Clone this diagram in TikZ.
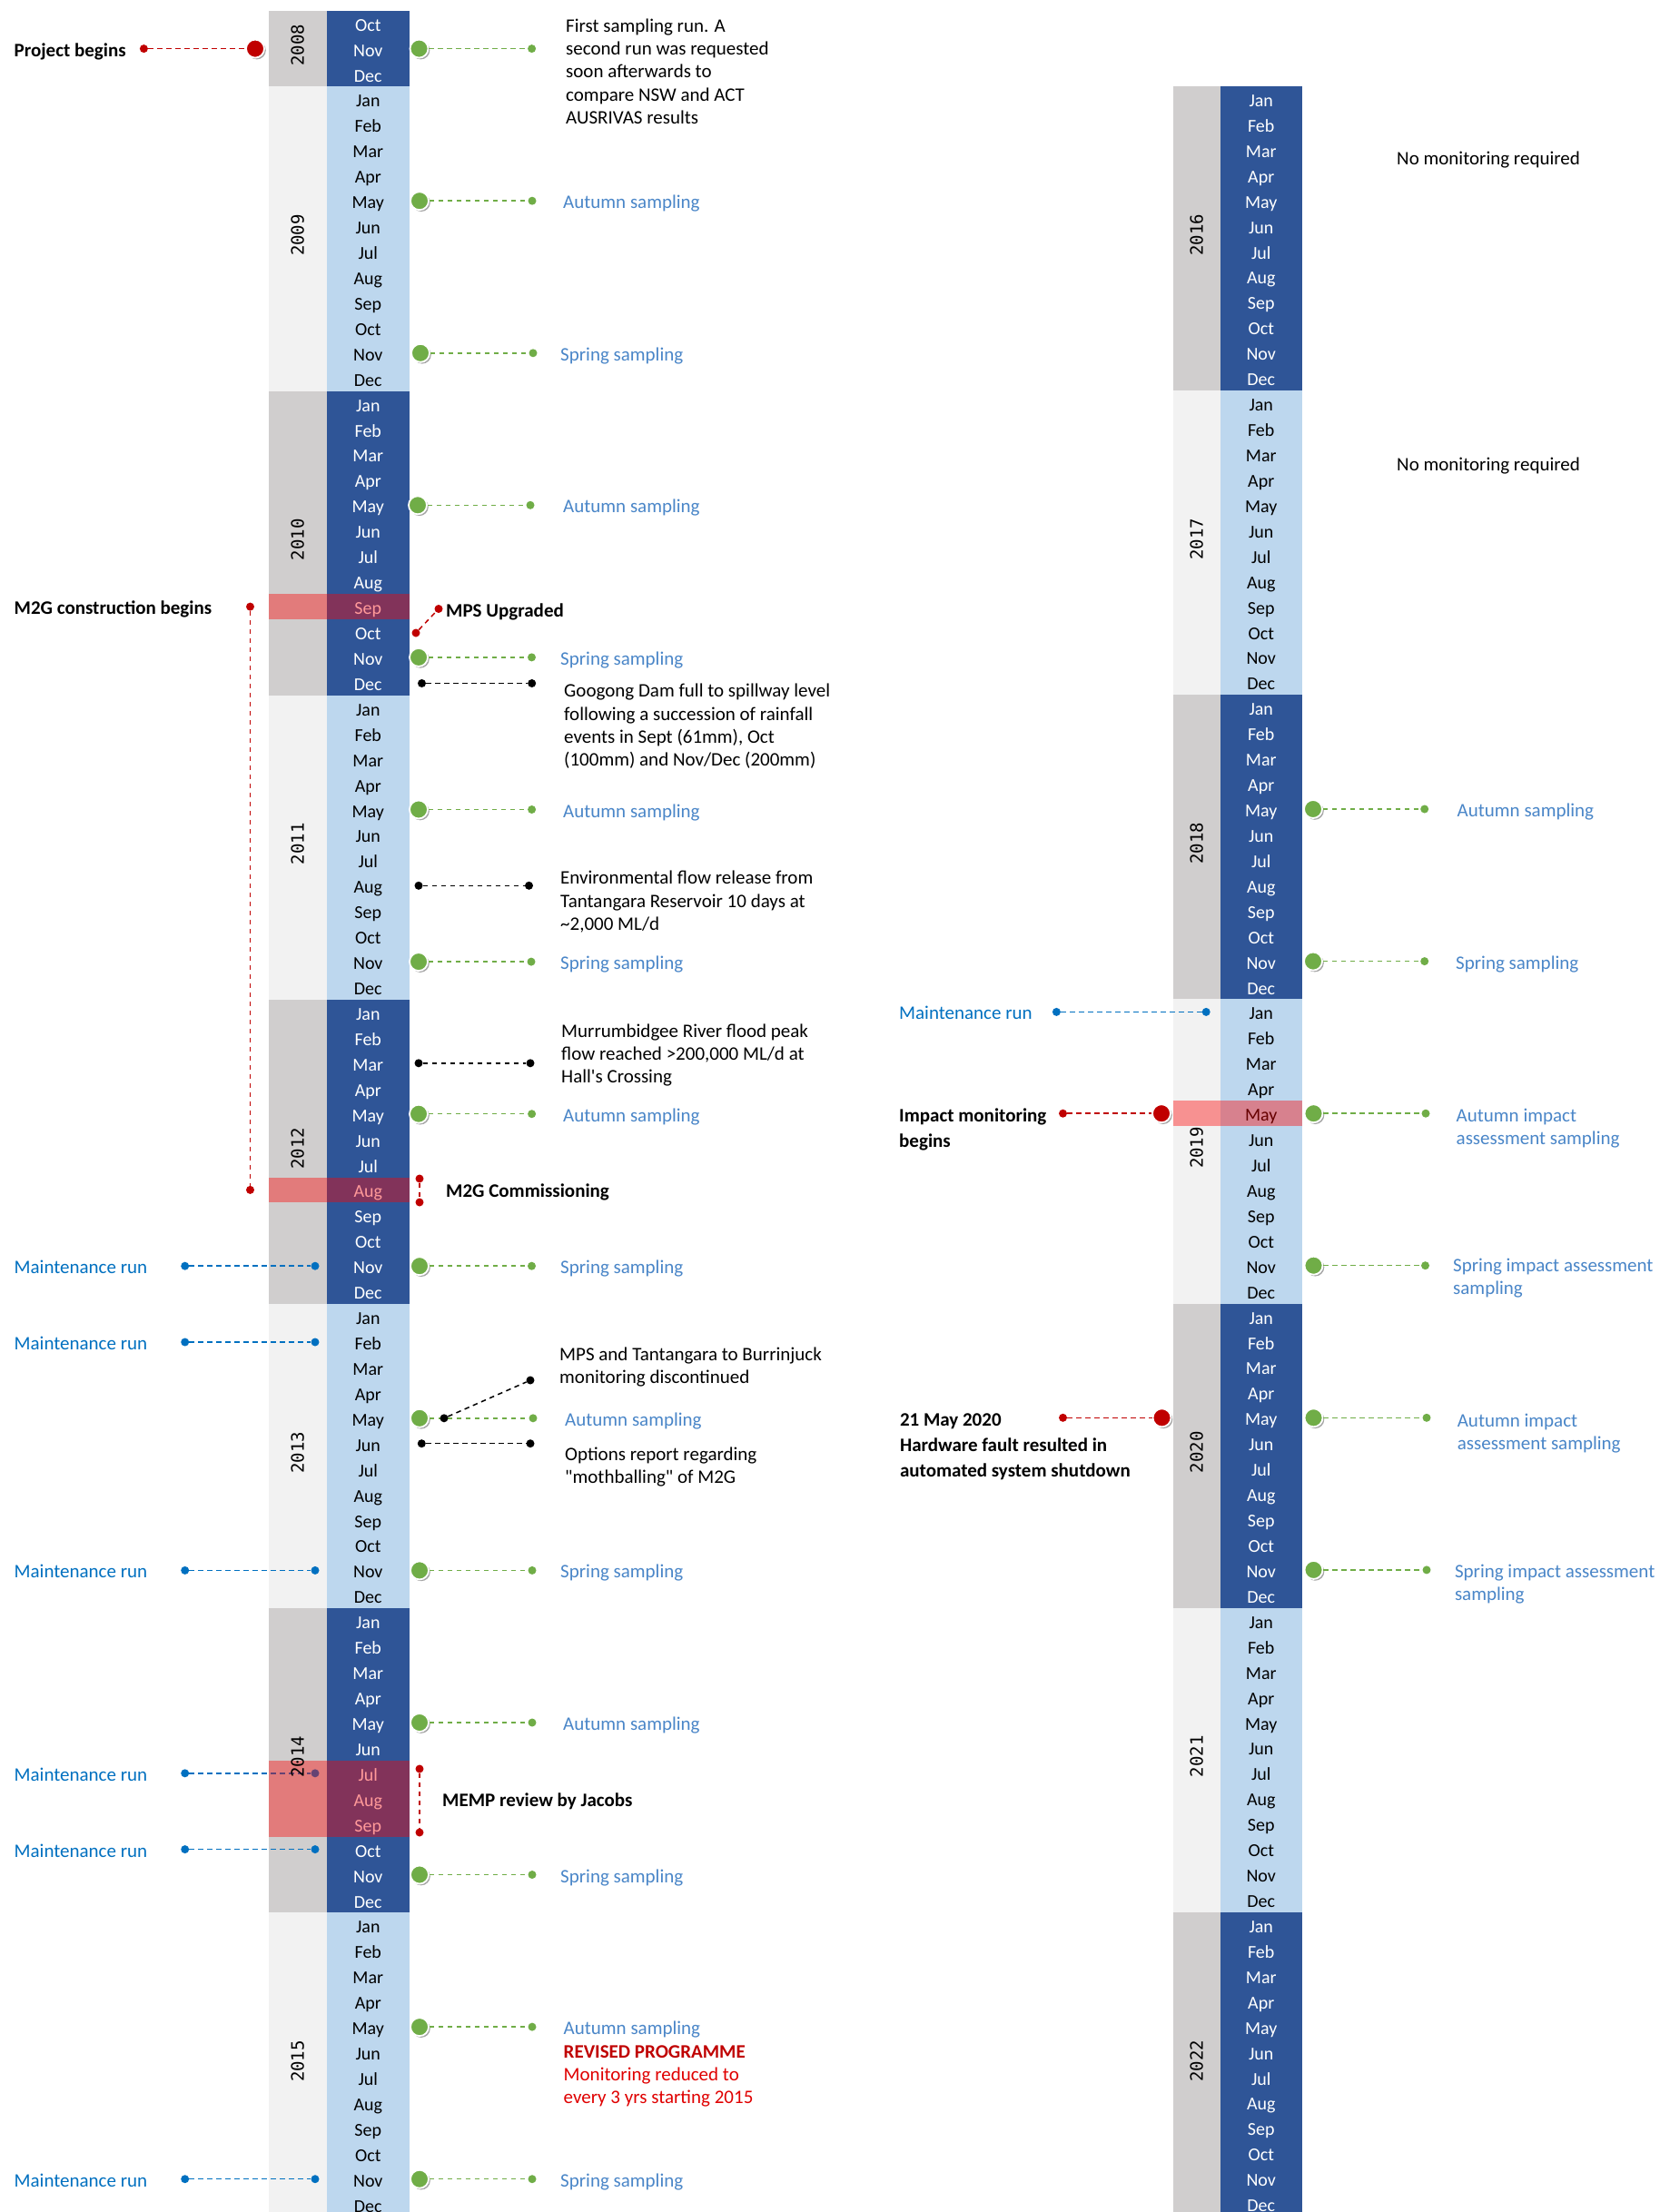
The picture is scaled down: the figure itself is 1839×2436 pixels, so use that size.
\documentclass[tikz,border=0pt]{standalone}
\usepackage{fontspec}
\setmainfont{Carlito}[Ligatures=TeXOff]
\newfontfamily\yearfont{DejaVu Sans Mono}
\usetikzlibrary{shadows}
\definecolor{yrD}{HTML}{D0CECE}
\definecolor{yrL}{HTML}{F2F2F2}
\definecolor{moD}{HTML}{2F5597}
\definecolor{moL}{HTML}{BDD7EE}
\definecolor{cG}{HTML}{70AD47}
\definecolor{cR}{HTML}{C00000}
\definecolor{cB}{HTML}{0070C0}
\definecolor{cS}{HTML}{4A86C8}
\definecolor{cRt}{HTML}{E00000}
\newcommand\MonthName[1]{\ifcase#1\or Jan\or Feb\or Mar\or Apr\or May\or Jun\or Jul\or Aug\or Sep\or Oct\or Nov\or Dec\fi}
\newcommand\lblfont{\fontsize{21}{25.3}\selectfont}
\newcommand\fstrut{\rule{0pt}{17pt}}
% #1 year-bar left, #2 boundary, #3 month-bar right, #4 top, #5 year, #6 first month
\newcommand\YearBlock[6]{%
  \pgfmathsetmacro\ynm{13-#6}%
  \pgfmathsetmacro\ybot{#4+\ynm*27.93}%
  \ifodd#5 \def\ycol{yrL}\def\mcol{moL}\def\tcol{black}\else\def\ycol{yrD}\def\mcol{moD}\def\tcol{white}\fi
  \fill[fill=\ycol] (#1,#4) rectangle (#2,\ybot);
  \fill[fill=\mcol] (#2,#4) rectangle (#3,\ybot);
  \foreach \mi in {#6,...,12} {%
    \pgfmathsetmacro\cy{#4+(\mi-#6+0.5)*27.93+7}%
    \node[month, text=\tcol] (m#5-\mi) at ({(#2+#3)/2},\cy) {\MonthName{\mi}};
  }%
}
\newcommand\YearLabel[5]{% #1 left #2 boundary #3 top #4 months #5 year
  \node[yearlbl] (y#5) at ({(#1+#2)/2},{#3+#4*27.93/2-4}) {#5};}
% green event: name, y, big x, dot x, text x, text
\newcommand\GreenEv[6]{%
  \node[bigG] (#1b) at (#3,#2) {};
  \node[dotG] (#1d) at (#4,#2) {};
  \draw[lnG] (#1b) -- (#1d);
  \node[lbl, text=cS] (#1t) at (#5,{#2+7}) {#6};}
\newcommand\BlueEv[2]{%
  \node[lbl, text=cB] (#1t) at (15.5,{#2+7}) {Maintenance run};
  \node[dotB] (#1a) at (203.7,#2) {};
  \node[dotB] (#1b) at (347,#2) {};
  \draw[lnB] (#1a) -- (#1b);}
\begin{document}
\begin{tikzpicture}[x=1pt,y=-1pt,
  month/.style={anchor=base, inner sep=0pt, yshift=-1.5pt, font=\fontsize{20}{24}\selectfont},
  yearlbl/.style={rotate=90, anchor=center, inner sep=0pt, font=\yearfont\fontsize{19}{22}\selectfont},
  bigG/.style={circle, fill=cG, draw=white, line width=1.8pt, minimum size=20pt, inner sep=0pt,
    drop shadow={shadow xshift=1.8pt, shadow yshift=-1.8pt, opacity=0.35, fill=black}},
  bigR/.style={bigG, fill=cR},
  dotG/.style={circle, fill=cG, minimum size=9pt, inner sep=0pt},
  dotR/.style={dotG, fill=cR},
  dotB/.style={dotG, fill=cB},
  dotK/.style={dotG, fill=black},
  lnG/.style={draw=cG, line width=1.5pt, dash pattern=on 5.5pt off 4.5pt},
  lnR/.style={lnG, draw=cR},
  lnB/.style={lnG, draw=cB},
  lnK/.style={lnG, draw=black},
  lbl/.style={anchor=base west, inner sep=0pt, yshift=-1.5pt, font=\lblfont},
  blbl/.style={lbl, font=\lblfont\bfseries},
  mlbl/.style={anchor=north west, inner sep=0pt, align=left, yshift=-1pt, font=\lblfont},
  overlay/.style={fill=red, opacity=0.4}]
\useasboundingbox (0,0) rectangle (1839,2436);
\clip (0,0) rectangle (1839,2436);
\fill[white] (0,0) rectangle (1839,2436);
% ---------- left column ----------
\YearBlock{295.6}{360}{450.6}{11.7}{2008}{10}
\foreach \yr [count=\k from 0] in {2009,...,2015} {%
  \pgfmathsetmacro\tp{95.49+\k*335.16}%
  \YearBlock{295.6}{360}{450.6}{\tp}{\yr}{1}}
% ---------- right column ----------
\foreach \yr [count=\k from 0] in {2016,...,2022} {%
  \pgfmathsetmacro\tp{95+\k*335.16}%
  \YearBlock{1291.8}{1343.5}{1434}{\tp}{\yr}{1}}

% ---------- left events ----------
\node[dotR] (pbD) at (158.4,53.6) {};
\node[bigR] (pbB) at (281,53.6) {};
\draw[lnR] (pbD) -- (pbB);
\node[blbl] (pbT) at (15.5,60.6) {Project begins};
\GreenEv{e1}{53.6}{461.5}{585.6}{623}{}
\node[mlbl] (e1x) at (623,17) {\fstrut First sampling run. A\\second run was requested\\soon afterwards to\\compare NSW and ACT\\AUSRIVAS results};
\GreenEv{e2}{221.2}{462}{586}{620}{Autumn sampling}
\GreenEv{e3}{388.8}{463}{587}{617}{Spring sampling}
\GreenEv{e4}{556.3}{460}{584}{620}{Autumn sampling}
% M2G construction
\node[blbl] (mcT) at (15.5,675.1) {M2G construction begins};
\node[dotR] (mcA) at (275.5,668.1) {};
\node[dotR] (mcB) at (275.5,1310.4) {};
\draw[lnR] (mcA) -- (mcB);
% MPS upgraded
\node[dotR] (mpA) at (458,697) {};
\node[dotR] (mpB) at (483,670.5) {};
\draw[lnR] (mpA) -- (mpB);
\node[blbl] (mpT) at (491,677.5) {MPS Upgraded};
\GreenEv{e5}{723.9}{461}{585.5}{617}{Spring sampling}
% Googong
\node[dotK] (ggA) at (464.5,752.5) {};
\node[dotK] (ggB) at (585.7,752.5) {};
\draw[lnK] (ggA) -- (ggB);
\node[mlbl] (ggT) at (621,749.5) {\fstrut Googong Dam full to spillway level\\following a succession of rainfall\\events in Sept (61mm), Oct\\(100mm) and Nov/Dec (200mm)};
\GreenEv{e6}{891.5}{461}{585.6}{620}{Autumn sampling}
% Environmental flow
\node[dotK] (efA) at (461,975.3) {};
\node[dotK] (efB) at (582.5,975.3) {};
\draw[lnK] (efA) -- (efB);
\node[mlbl] (efT) at (617,955.5) {\fstrut Environmental flow release from\\Tantangara Reservoir 10 days at\\\textasciitilde2,000 ML/d};
\GreenEv{e7}{1059.1}{461}{585}{617}{Spring sampling}
% Murrumbidgee
\node[dotK] (mrA) at (461,1170.8) {};
\node[dotK] (mrB) at (584,1170.8) {};
\draw[lnK] (mrA) -- (mrB);
\node[mlbl] (mrT) at (618,1124) {\fstrut Murrumbidgee River flood peak\\flow reached >200,000 ML/d at\\Hall's Crossing};
\GreenEv{e8}{1226.7}{461}{585.6}{620}{Autumn sampling}
% M2G commissioning
\node[dotR] (cmA) at (462,1298) {};
\node[dotR] (cmB) at (462,1324) {};
\draw[lnR] (cmA) -- (cmB);
\node[blbl] (cmT) at (491,1317.4) {M2G Commissioning};
\BlueEv{b1}{1394.2}
\GreenEv{e9}{1394.2}{462}{585.5}{617}{Spring sampling}
\BlueEv{b2}{1478.0}
% May 2013
\GreenEv{e10}{1561.8}{462}{587}{622}{Autumn sampling}
\node[dotK] (mtA) at (489,1561.8) {};
\node[dotK] (mtB) at (584,1520) {};
\draw[lnK] (mtA) -- (mtB);
\node[mlbl] (mtT) at (616,1480) {\fstrut MPS and Tantangara to Burrinjuck\\monitoring discontinued};
% Jun 2013
\node[dotK] (orA) at (464.3,1589.7) {};
\node[dotK] (orB) at (584,1589.7) {};
\draw[lnK] (orA) -- (orB);
\node[mlbl] (orT) at (622,1590) {\fstrut Options report regarding\\"mothballing" of M2G};
\BlueEv{b3}{1729.4}
\GreenEv{e11}{1729.4}{462}{586}{617}{Spring sampling}
\GreenEv{e12}{1897.0}{462}{586}{620}{Autumn sampling}
\BlueEv{b4}{1952.8}
% MEMP review
\node[dotR] (mmA) at (462,1948) {};
\node[dotR] (mmB) at (462,2018) {};
\draw[lnR] (mmA) -- (mmB);
\node[blbl] (mmT) at (487,1988) {MEMP review by Jacobs};
\BlueEv{b5}{2036.6}
\GreenEv{e13}{2064.5}{462}{586}{617}{Spring sampling}
\GreenEv{e14}{2232.1}{462}{586}{620.5}{Autumn sampling}
\node[mlbl, text=cRt] (rvT) at (620.5,2248) {\fstrut\textcolor{cR}{\bfseries REVISED PROGRAMME}\\Monitoring reduced to\\every 3 yrs starting 2015};
\BlueEv{b6}{2399.7}
\GreenEv{e15}{2399.7}{462}{586}{617}{Spring sampling}

% ---------- right events ----------
\node[lbl] (nm1) at (1538,180) {No monitoring required};
\node[lbl] (nm2) at (1538,516.5) {No monitoring required};
\GreenEv{r1}{891.0}{1446}{1568.7}{1604.5}{Autumn sampling}
\GreenEv{r2}{1058.6}{1446}{1568.7}{1603}{Spring sampling}
\node[lbl, text=cB] (rbT) at (990,1121.4) {Maintenance run};
\node[dotB] (rbA) at (1163.4,1114.4) {};
\node[dotB] (rbB) at (1328.2,1114.4) {};
\draw[lnB] (rbA) -- (rbB);
% impact monitoring begins
\node[dotR] (imA) at (1170.5,1226.2) {};
\node[bigR] (imB) at (1279,1226.2) {};
\draw[lnR] (imA) -- (imB);
\node[mlbl, font=\fontsize{21}{28}\selectfont\bfseries] (imT) at (990,1217) {\fstrut Impact monitoring\\begins};
\GreenEv{r3}{1226.2}{1446.5}{1570}{1603.5}{}
\node[mlbl, text=cS] (r3x) at (1603.5,1217) {\fstrut Autumn impact\\assessment sampling};
\GreenEv{r4}{1393.7}{1446.5}{1569.5}{1600}{}
\node[mlbl, text=cS] (r4x) at (1600,1382) {\fstrut Spring impact assessment\\sampling};
% hardware fault
\node[dotR] (hfA) at (1170.5,1561.3) {};
\node[bigR] (hfB) at (1279.5,1561.3) {};
\draw[lnR] (hfA) -- (hfB);
\node[mlbl, font=\fontsize{21}{28}\selectfont\bfseries] (hfT) at (990.8,1552.5) {\fstrut 21 May 2020\\Hardware fault resulted in\\automated system shutdown};
\GreenEv{r5}{1561.3}{1446.5}{1571}{1604.6}{}
\node[mlbl, text=cS] (r5x) at (1604.6,1553) {\fstrut Autumn impact\\assessment sampling};
\GreenEv{r6}{1728.9}{1446.5}{1571}{1601.8}{}
\node[mlbl, text=cS] (r6x) at (1601.8,1719) {\fstrut Spring impact assessment\\sampling};

% ---------- highlight overlays ----------
\fill[overlay] (295.6,654.1) rectangle (450.6,682.0);
\fill[overlay] (295.6,1296.5) rectangle (450.6,1324.4);
\fill[overlay] (295.6,1938.9) rectangle (450.6,2022.7);
\fill[overlay] (1291.8,1212.2) rectangle (1434,1240.1);

% ---------- year labels ----------
\YearLabel{295.6}{360}{11.7}{3}{2008}
\foreach \yr [count=\k from 0] in {2009,...,2015} {%
  \pgfmathsetmacro\tp{95.49+\k*335.16}%
  \YearLabel{295.6}{360}{\tp}{12}{\yr}}
\foreach \yr [count=\k from 0] in {2016,...,2022} {%
  \pgfmathsetmacro\tp{95+\k*335.16}%
  \YearLabel{1291.8}{1343.5}{\tp}{12}{\yr}}
\end{tikzpicture}
\end{document}
